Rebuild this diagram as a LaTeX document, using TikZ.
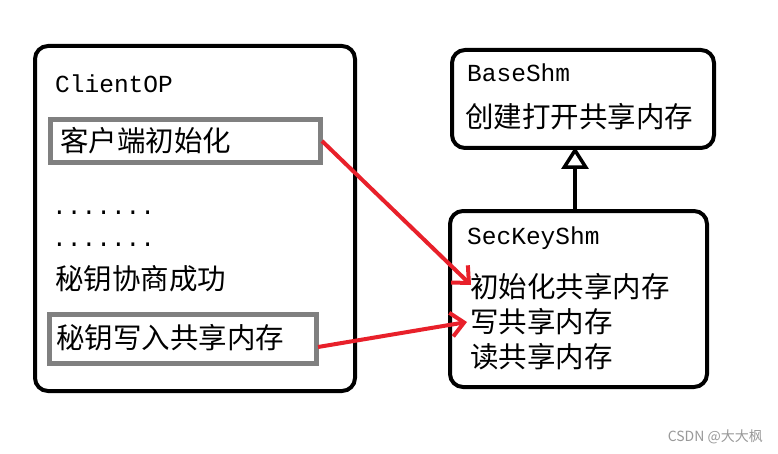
\documentclass[tikz,border=0pt]{standalone}
\usepackage{fontspec}
\newfontfamily\cjk{Noto Sans CJK SC}
\newfontfamily\mono{Liberation Mono}
\usetikzlibrary{arrows.meta}
\definecolor{redarrow}{HTML}{E8202A}
\definecolor{grayline}{HTML}{808080}
\begin{document}
\begin{tikzpicture}[x=1pt,y=1pt,
  bigbox/.style={draw=black,line width=4pt,rounded corners=13pt,fill=white,inner sep=0pt},
  graybox/.style={draw=grayline,line width=5pt,inner sep=0pt},
  zh/.style={anchor=base west,inner sep=0pt,font=\cjk\fontsize{28.5}{32}\selectfont},
  en/.style={anchor=base west,inner sep=0pt,font=\mono\fontsize{24.5}{28}\selectfont},
  redarr/.style={draw=redarrow,line width=4pt,-{Straight Barb[length=13pt,width=24pt,line width=4pt]}},
  inherit/.style={draw=black,line width=4pt,-{Triangle[open,length=22pt,width=27pt,line width=3.5pt]}}
]
\useasboundingbox (0,0) rectangle (778,453);
\fill[white] (0,0) rectangle (778,453);

% left box
\node[bigbox,minimum width=320pt,minimum height=345pt] (client) at (195,234.5) {};
\node[graybox,minimum width=270pt,minimum height=43pt] (initbox) at (185.5,312) {};
\node[graybox,minimum width=267pt,minimum height=49pt] (writebox) at (183,114) {};
\node[en] (clientop) at (55,360) {ClientOP};
\node[zh] (t1) at (60,301) {客户端初始化};
\node[en] (dots1) at (52,239) {.......};
\node[en] (dots2) at (52,207) {.......};
\node[zh] (t2) at (55,164) {秘钥协商成功};
\node[zh] (t3) at (56,105) {秘钥写入共享内存};

% right boxes
\node[bigbox,minimum width=262pt,minimum height=98pt] (base) at (583,354) {};
\node[bigbox,minimum width=257pt,minimum height=176pt] (sec) at (578.5,154) {};
\node[en] (basename) at (467,371) {BaseShm};
\node[zh] (b1) at (465,325) {创建打开共享内存};
\node[en] (secname) at (467,209) {SecKeyShm};
\node[zh] (s1) at (470,156) {初始化共享内存};
\node[zh] (s2) at (470,121) {写共享内存};
\node[zh] (s3) at (470,86) {读共享内存};

% inheritance arrow
\coordinate (inhfrom) at (575,242);
\coordinate (inhto) at (575,306);
\draw[inherit] (inhfrom) -- (inhto);

% red arrows
\coordinate (r1s) at (322,312);
\coordinate (r1e) at (471,168);
\coordinate (r2s) at (318,106);
\coordinate (r2e) at (467,131);
\draw[redarr] (r1s) -- (r1e);
\draw[redarr] (r2s) -- (r2e);

% watermark
\node[anchor=east,inner sep=0pt,text=black!40,font=\cjk\fontsize{14}{16}\selectfont] (wm) at (763,16) {CSDN @大大枫};
\end{tikzpicture}
\end{document}
